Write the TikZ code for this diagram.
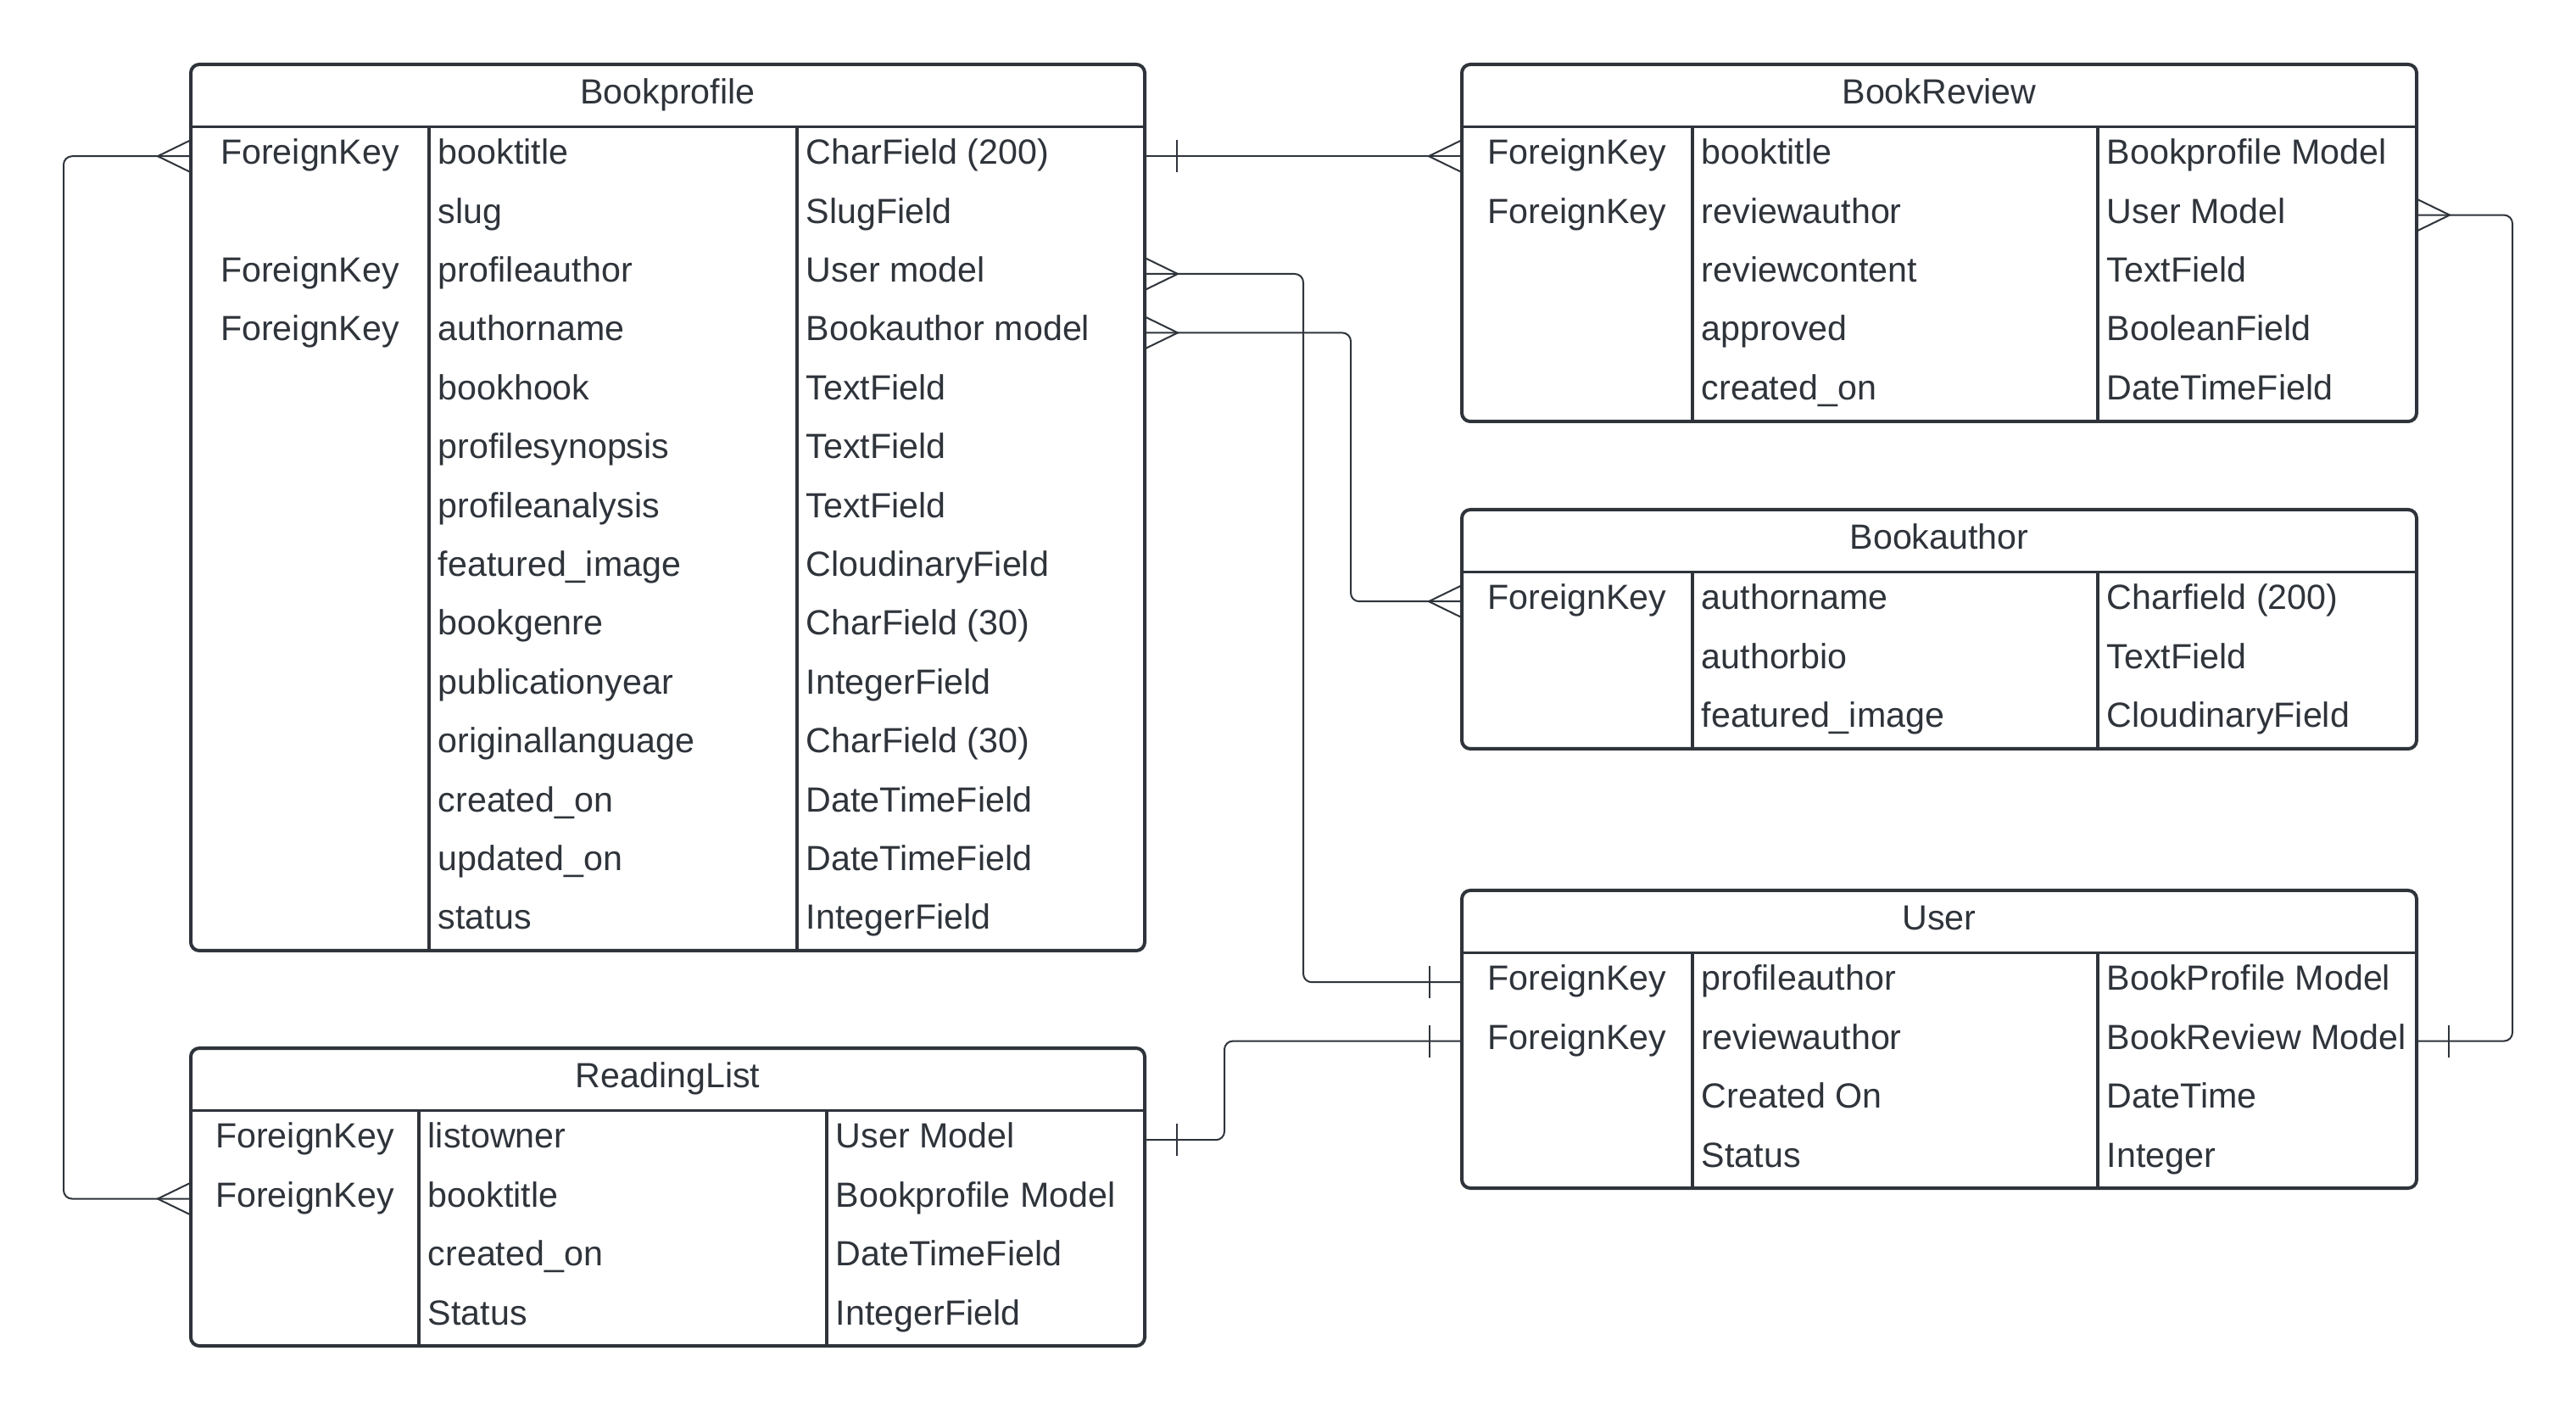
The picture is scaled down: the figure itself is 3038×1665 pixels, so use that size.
\documentclass[tikz,border=0pt]{standalone}
\usepackage{fontspec}
\setmainfont{Liberation Sans}
\definecolor{ink}{HTML}{2F343B}
\tikzset{
  tbl/.style={draw=ink, line width=1pt, rounded corners=2.5pt, inner sep=0pt, outer sep=0pt},
  rule/.style={draw=ink, line width=0.8pt},
  cell/.style={text=ink, inner sep=0pt, font=\fontsize{10.3pt}{12pt}\selectfont, text height=7.4pt, text depth=2.6pt},
  link/.style={draw=ink, line width=0.5pt, rounded corners=2.5pt},
  many/.pic={\draw[link, sharp corners] (0,19) -- (-39,0) -- (0,-19);},
  one/.pic={\draw[link] (-38,19) -- (-38,-19);}
}
% #1 name, #2 top left, #3 width, #4 height, #5 #6 column rules, #7 title, #8 rows
\newcommand\ertable[8]{%
  \begin{scope}[shift={#2}]
    \node[tbl, minimum width=#3*0.25pt, minimum height=#4*0.25pt] (#1) at ({#3/2},{#4/2}) {};
    \draw[rule] (0,73.5) -- (#3,73.5) (#5,73.5) -- (#5,#4) (#6,73.5) -- (#6,#4);
    \node[cell] (#1-t) at ({#3/2},36.75) {#7};
    \foreach \key/\field/\type [count=\i from 0] in {#8}{
      \node[cell] at ({#5/2},{108.2+69.4*\i}) {\key};
      \node[cell, anchor=west] (#1-\i) at ({#5+10},{108.2+69.4*\i}) {\field};
      \node[cell, anchor=west] at ({#6+10},{108.2+69.4*\i}) {\type};
    }
  \end{scope}}
\begin{document}
\begin{tikzpicture}[x=0.25pt, y=-0.25pt]
  \fill[white] (0,0) rectangle (3038,1665);
  \useasboundingbox (0,0) rectangle (3038,1665);

  \ertable{bp}{(225,76)}{1125}{1045}{281}{715}{Bookprofile}{%
    ForeignKey/booktitle/CharField (200), {}/slug/SlugField,
    ForeignKey/profileauthor/User model, ForeignKey/authorname/Bookauthor model,
    {}/bookhook/TextField, {}/profilesynopsis/TextField, {}/profileanalysis/TextField,
    {}/featured\_image/CloudinaryField, {}/bookgenre/CharField (30),
    {}/publicationyear/IntegerField, {}/originallanguage/CharField (30),
    {}/created\_on/DateTimeField, {}/updated\_on/DateTimeField, {}/status/IntegerField}
  \ertable{br}{(1724,76)}{1126}{421}{272}{750}{BookReview}{%
    ForeignKey/booktitle/Bookprofile Model, ForeignKey/reviewauthor/User Model,
    {}/reviewcontent/TextField, {}/approved/BooleanField, {}/created\_on/DateTimeField}
  \ertable{ba}{(1724,601)}{1126}{282}{272}{750}{Bookauthor}{%
    ForeignKey/authorname/Charfield (200), {}/authorbio/TextField,
    {}/featured\_image/CloudinaryField}
  \ertable{us}{(1724,1050)}{1126}{351}{272}{750}{User}{%
    ForeignKey/profileauthor/BookProfile Model, ForeignKey/reviewauthor/BookReview Model,
    {}/Created On/DateTime, {}/Status/Integer}
  \ertable{rl}{(225,1236)}{1125}{351}{269}{750}{ReadingList}{%
    ForeignKey/listowner/User Model, ForeignKey/booktitle/Bookprofile Model,
    {}/created\_on/DateTimeField, {}/Status/IntegerField}

  % relations
  \draw[link] (bp.east |- bp-0) -- (br.west |- br-0);
  \path (bp.east |- bp-0) pic[xscale=-1] {one} (br.west |- br-0) pic {many};
  \draw[link] (bp.east |- bp-2) -- ++(187,0) |- (us.west |- us-0);
  \path (bp.east |- bp-2) pic[xscale=-1] {many} (us.west |- us-0) pic {one};
  \draw[link] (bp.east |- bp-3) -- ++(243,0) |- (ba.west |- ba-0);
  \path (bp.east |- bp-3) pic[xscale=-1] {many} (ba.west |- ba-0) pic {many};
  \draw[link] (bp.west |- bp-0) -- ++(-150,0) |- (rl.west |- rl-1);
  \path (bp.west |- bp-0) pic {many} (rl.west |- rl-1) pic {many};
  \draw[link] (rl.east |- rl-0) -- ++(94,0) |- (us.west |- us-1);
  \path (rl.east |- rl-0) pic[xscale=-1] {one} (us.west |- us-1) pic {one};
  \draw[link] (br.east |- br-1) -- ++(113,0) |- (us.east |- us-1);
  \path (br.east |- br-1) pic[xscale=-1] {many} (us.east |- us-1) pic[xscale=-1] {one};
\end{tikzpicture}
\end{document}
